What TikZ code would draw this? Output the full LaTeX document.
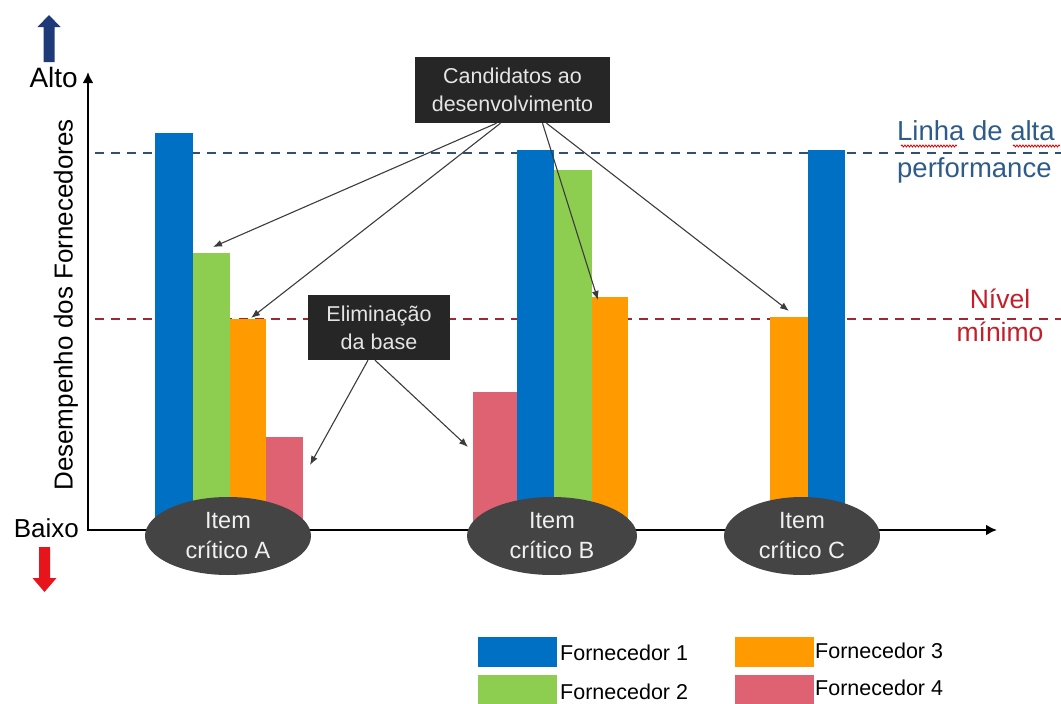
\documentclass[tikz,border=0pt]{standalone}
\usepackage{fontspec}
\setmainfont{Liberation Sans}
\usetikzlibrary{arrows.meta,calc,decorations.pathmorphing,shapes.geometric}

\definecolor{fblue}{RGB}{0,112,196}
\definecolor{fgreen}{RGB}{141,205,80}
\definecolor{forange}{RGB}{255,154,0}
\definecolor{fpink}{RGB}{222,98,114}
\definecolor{itemgray}{RGB}{68,68,68}
\definecolor{boxgray}{RGB}{38,38,38}
\definecolor{conngray}{RGB}{60,60,60}
\definecolor{highline}{RGB}{48,82,112}
\definecolor{hightext}{RGB}{46,92,138}
\definecolor{lowline}{RGB}{160,40,52}
\definecolor{lowtext}{RGB}{196,30,42}
\definecolor{upnavy}{RGB}{30,58,120}
\definecolor{downred}{RGB}{232,20,27}

\begin{document}
\begin{tikzpicture}[x=1pt,y=-1pt,
  bar/.style={rectangle,draw=none,inner sep=0pt,anchor=south west},
  item/.style={ellipse,fill=itemgray,inner sep=0pt,minimum width=#1,minimum height=78pt,
    text=white!94!black,align=center,font=\fontsize{23.5}{30}\selectfont},
  callout/.style={rectangle,fill=boxgray,inner sep=0pt,text=white!90!black,align=center,
    font=\fontsize{21.5}{28}\selectfont},
  conn/.style={draw=conngray,line width=1.1pt,-{Latex[length=9pt,width=7pt]}},
  axis/.style={line width=2.6pt,{Latex[length=11pt,width=11pt]}-{Latex[length=11pt,width=11pt]}},
  refline/.style={line width=2pt,dash pattern=on 9pt off 7pt},
  keybox/.style={rectangle,inner sep=0pt,minimum width=79pt,anchor=north west},
  keytext/.style={anchor=west,inner sep=0pt,font=\fontsize{21.5}{24}\selectfont},
  scaletext/.style={inner sep=0pt,font=\fontsize{26}{30}\selectfont}
]
\useasboundingbox (0,0) rectangle (1061,704);

% reference levels
\coordinate (hiL) at (95,153);  \coordinate (hiR) at (1061,153);
\coordinate (loL) at (95,319);  \coordinate (loR) at (1061,319);
\draw[refline,highline] (hiL) -- (hiR);
\draw[refline,lowline] (loL) -- (loR);

% level labels
\node[anchor=west,inner sep=0pt,text=hightext,align=left,font=\fontsize{27.5}{37}\selectfont]
  (hilabel) at (897,152) {Linha de alta\\performance};
\draw[red!80!black,line width=0.8pt,decorate,decoration={snake,amplitude=1pt,segment length=3pt}]
  (901,146) -- (957,146);
\draw[red!80!black,line width=0.8pt,decorate,decoration={snake,amplitude=1pt,segment length=3pt}]
  (1013,146) -- (1060,146);
\node[inner sep=0pt,text=lowtext,align=center,font=\fontsize{26.5}{33}\selectfont]
  (lolabel) at (1000,315) {Nível\\mínimo};

% bars, item A
\node[bar,fill=fblue,  minimum width=38pt,minimum height=395pt] (a1) at (155,528) {};
\node[bar,fill=fgreen, minimum width=37pt,minimum height=275pt] (a2) at (193,528) {};
\node[bar,fill=forange,minimum width=36pt,minimum height=209pt] (a3) at (230,528) {};
\node[bar,fill=fpink,  minimum width=37pt,minimum height=91pt]  (a4) at (266,528) {};
% bars, item B
\node[bar,fill=fpink,  minimum width=44pt,minimum height=136pt] (b4) at (473,528) {};
\node[bar,fill=fblue,  minimum width=37pt,minimum height=378pt] (b1) at (517,528) {};
\node[bar,fill=fgreen, minimum width=38pt,minimum height=358pt] (b2) at (554,528) {};
\node[bar,fill=forange,minimum width=36pt,minimum height=231pt] (b3) at (592,528) {};
% bars, item C
\node[bar,fill=forange,minimum width=38pt,minimum height=211pt] (c3) at (770,528) {};
\node[bar,fill=fblue,  minimum width=37pt,minimum height=378pt] (c1) at (808,528) {};

% axes
\coordinate (ytop) at (88,72);
\coordinate (origin) at (88,530);
\coordinate (xend) at (997,530);
\draw[axis] (ytop) -- (origin) -- (xend);

% critical items
\node[item=166pt] (itA) at (228,536) {Item\\crítico A};
\node[item=170pt] (itB) at (552,536) {Item\\crítico B};
\node[item=156pt] (itC) at (802,536) {Item\\crítico C};

% axis labels
\node[scaletext,anchor=east,font=\fontsize{28}{30}\selectfont] (alto) at (78,77) {Alto};
\node[scaletext,anchor=east] (baixo) at (79,528) {Baixo};
\node[scaletext,rotate=90] (ylabel) at (66,305) {Desempenho dos Fornecedores};
\fill[upnavy] (43.5,62) -- (43.5,27) -- (37.5,27) -- (49,15) -- (60.5,27) -- (54.5,27) -- (54.5,62) -- cycle;
\fill[downred] (39,547) -- (39,578) -- (32.5,578) -- (44.5,592) -- (56.5,578) -- (50,578) -- (50,547) -- cycle;

% callouts
\node[callout,minimum width=195pt,minimum height=66pt] (cand) at (512.5,90) {Candidatos ao\\desenvolvimento};
\node[callout,minimum width=142pt,minimum height=65pt] (elim) at (379,327.5) {Eliminação\\da base};

% callout targets
\coordinate (tA2) at (213,247);
\coordinate (tA3) at (251,318);
\coordinate (tB3) at (598,300);
\coordinate (tC3) at (789,311);
\coordinate (tA4) at (310,465);
\coordinate (tB4) at (468,447);

\draw[conn] ([xshift=-16pt]cand.south) -- (tA2);
\draw[conn] ([xshift=-12pt]cand.south) -- (tA3);
\draw[conn] ([xshift=30pt]cand.south) -- (tB3);
\draw[conn] ([xshift=34pt]cand.south) -- (tC3);
\draw[conn] ([xshift=-11pt]elim.south) -- (tA4);
\draw[conn] ([xshift=-4pt]elim.south) -- (tB4);

% legend
\node[keybox,fill=fblue,  minimum height=30pt] (k1) at (478,637) {};
\node[keybox,fill=fgreen, minimum height=30pt] (k2) at (478,675) {};
\node[keybox,fill=forange,minimum height=30pt] (k3) at (735,637) {};
\node[keybox,fill=fpink,  minimum height=30pt] (k4) at (735,675) {};
\node[keytext] (l1) at (560,653) {Fornecedor 1};
\node[keytext] (l2) at (560,692) {Fornecedor 2};
\node[keytext] (l3) at (815,651) {Fornecedor 3};
\node[keytext] (l4) at (815,688) {Fornecedor 4};
\end{tikzpicture}
\end{document}
